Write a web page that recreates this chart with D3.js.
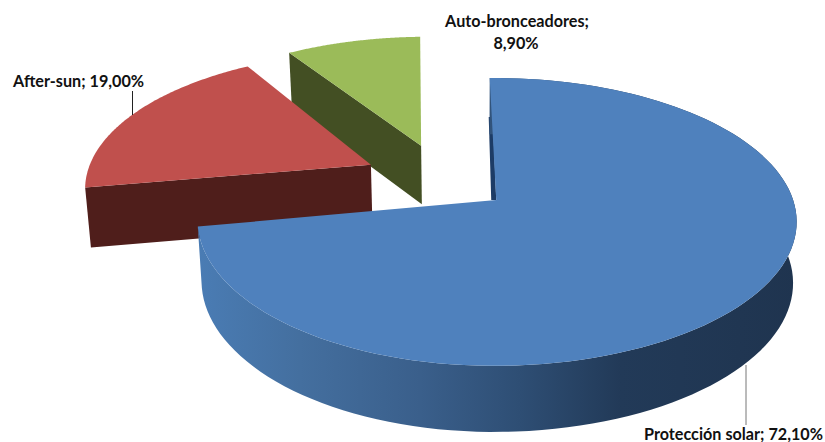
<!DOCTYPE html>
<html>
<head>
<meta charset="utf-8">
<script src="https://cdnjs.cloudflare.com/ajax/libs/d3/7.8.5/d3.min.js"></script>
<style>
	html, body { margin: 0; padding: 0; background: #fff; }
	svg { display: block; }
	.lbl { font-family: Lato, "Open Sans", sans-serif; font-weight: 700; font-size: 16.2px; fill: #111; }
</style>
</head>
<body>
<div id="chart"></div>
<script>
var categories = ["Protección solar", "After-sun", "Auto-bronceadores"];
var shares = [72.1, 19.0, 8.9];
var topColors = ["#4f81bd", "#c0504d", "#9bbb59"];
var wallColors = ["#1d3c66", "#4f1e1b", "#434f23"];

var width = 825, height = 442;

// perspective of the disc plane: apex of the blue slice is the origin
var originX = 494, originY = 200;
var spreadX = 297, spreadY = 140.6, persp = 0.1525;
// disc centre before the slices are pulled apart, and how far they are pulled
var centreU = -0.198, centreV = 0.16, explode = 0.255;
var rotation = -1 * Math.PI / 180;

function project(u, v) {
	var w = 1 + persp * v;
	var x = originX + spreadX * u / w;
	var y = originY - spreadY * v / w;
	// the chart's projection is not quite a pure perspective, pull the sides in
	if (x < 500) {
		var l = (500 - x) / 420;
		return [x + 7 * l * l, y - 4 * l * l];
	}
	var r = (x - 500) / 300;
	return [x + 2 * r * r, y];
}
// same point on the underside of the disc
function lower(p) {
	var squeeze = p[0] > 470 ? 0.011 : 0.015;
	return [p[0] + (470 - p[0]) * squeeze, p[1] + 55 + (p[1] - 40) * 0.034];
}

var pie = d3.pie().sort(null).startAngle(rotation).endAngle(rotation + 2 * Math.PI);
var slices = pie(shares);

var svg = d3.select("#chart").append("svg")
	.attr("width", width)
	.attr("height", height);

// wall shading runs dark to the right
var wallStops = [
	[198, "#4a7cb4"], [300, "#446f9f"], [420, "#3a5f8b"], [520, "#2e4e74"],
	[620, "#223a58"], [800, "#1f344f"]
];
var shade = d3.scaleLinear().domain([198, 800]).range([0, 100]);
var grad = svg.append("defs").append("linearGradient")
	.attr("id", "blueWall")
	.attr("gradientUnits", "userSpaceOnUse")
	.attr("x1", 198).attr("x2", 800).attr("y1", 0).attr("y2", 0);
grad.selectAll("stop").data(wallStops).enter().append("stop")
	.attr("offset", function(d){ return shade(d[0]) + "%"; })
	.attr("stop-color", function(d){ return d[1]; });

var line = d3.line();

function sliceGeom(d, i) {
	var mid = (d.startAngle + d.endAngle) / 2;
	var cu = centreU + explode * Math.sin(mid);
	var cv = centreV + explode * Math.cos(mid);
	var turn = 0;
	// smallest slice sits a touch off the model
	if (i === 2) { cu += 0.011; cv += 0.006; turn = -0.024; }
	var rim = d3.range(0, 121).map(function(k) {
		var a = d.startAngle + (d.endAngle - d.startAngle) * k / 120 + turn;
		return project(cu + Math.sin(a), cv + Math.cos(a));
	});
	return { apex: project(cu, cv), rim: rim };
}

// far slices first, the big one goes on top
[2, 1, 0].forEach(function(i) {
	var g = sliceGeom(slices[i], i);
	var first = g.rim[0];
	if (i === 0) {
		// blue apex leans right, the inner wall only shows as a sliver in the notch
		g.apex[0] += 2;
		svg.append("path")
			.attr("d", line([[first[0] - 1, first[1] + 39], [first[0] + 3, first[1] + 39], g.apex, [g.apex[0] - 5, g.apex[1]]]) + "Z")
			.attr("fill", wallColors[i]);
		svg.append("path")
			.attr("d", line(g.rim.concat(g.rim.map(lower).reverse())) + "Z")
			.attr("fill", "url(#blueWall)");
	} else {
		svg.append("path")
			.attr("d", line([first, g.apex, lower(g.apex), lower(first)]) + "Z")
			.attr("fill", wallColors[i]);
	}
	svg.append("path")
		.attr("d", line([g.apex].concat(g.rim)) + "Z")
		.attr("fill", topColors[i]);
});

// leader lines
svg.append("line").attr("x1", 132.5).attr("x2", 132.5).attr("y1", 91).attr("y2", 115)
	.attr("stroke", "#222").attr("stroke-width", 1);
svg.append("line").attr("x1", 746).attr("x2", 746).attr("y1", 365).attr("y2", 425)
	.attr("stroke", "#777").attr("stroke-width", 1);

function pct(v) { return v.toFixed(2).replace(".", ",") + "%"; }

svg.append("text").attr("class", "lbl").attr("x", 13).attr("y", 87)
	.text(categories[1] + "; " + pct(shares[1]));
svg.append("text").attr("class", "lbl").attr("x", 823).attr("y", 440).attr("text-anchor", "end")
	.text(categories[0] + "; " + pct(shares[0]));
svg.append("text").attr("class", "lbl").attr("x", 517).attr("y", 27).attr("text-anchor", "middle")
	.text(categories[2] + ";");
svg.append("text").attr("class", "lbl").attr("x", 516).attr("y", 49).attr("text-anchor", "middle")
	.text(pct(shares[2]));
</script>
</body>
</html>
